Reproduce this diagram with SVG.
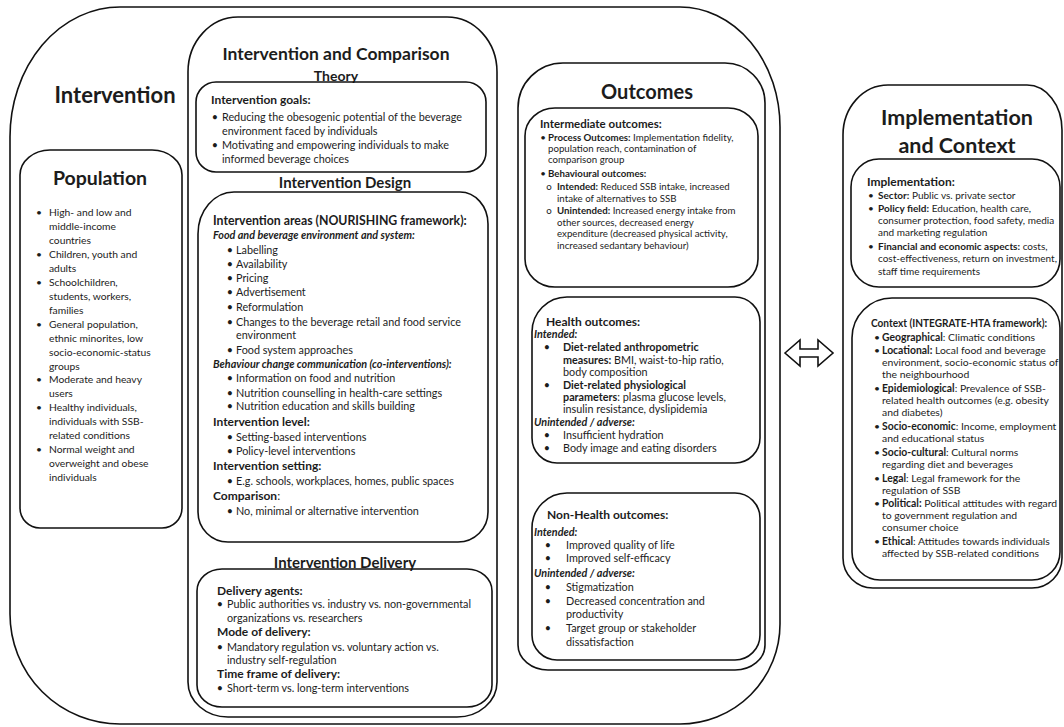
<svg xmlns="http://www.w3.org/2000/svg" width="1064" height="727" viewBox="0 0 1064 727">
<style>
.box{fill:none;stroke:#111;stroke-width:1.6}
text{font-family:Lato,"Open Sans","Liberation Sans",sans-serif;fill:#1c1c1c}
.h1{font-size:22px;font-weight:bold;text-anchor:middle}
.h2{font-size:17.5px;font-weight:bold;text-anchor:middle}
.h3{font-size:15px;font-weight:bold;text-anchor:middle}
.hd{font-size:12px;font-weight:bold}
.bi{font-weight:bold;font-style:italic}
.t11{font-size:10.8px}
.tp{font-size:10.3px}
.t10{font-size:10px}
.t104{font-size:10.4px}
.t95{font-size:9.7px}
.b{font-weight:bold}
.bul{text-anchor:middle}
</style>
<rect width="1064" height="727" fill="#fff"/>

<g id="intervention">
<path class="box" d="M120,7 H680 A100 120 0 0 1 780,127 V624 A100 100 0 0 1 680,724 H120 A110 110 0 0 1 10,614 V137 A110 130 0 0 1 120,7 Z"/>
<text class="h1" x="115" y="103">Intervention</text>
</g>

<g id="population">
<path class="box" d="M50,150 H152 A30 25 0 0 1 182,175 V508 A20 20 0 0 1 162,528 H40 A20 20 0 0 1 20,508 V175 A30 25 0 0 1 50,150 Z"/>
<text class="h1" x="100" y="185" style="font-size:19.5px">Population</text>
<g class="tp">
<text class="bul" x="39" y="216">•</text><text x="49" y="216">High- and low and</text>
<text x="49" y="230">middle-income</text>
<text x="49" y="244">countries</text>
<text class="bul" x="39" y="258">•</text><text x="49" y="258">Children, youth and</text>
<text x="49" y="272">adults</text>
<text class="bul" x="39" y="286">•</text><text x="49" y="286">Schoolchildren,</text>
<text x="49" y="300">students, workers,</text>
<text x="49" y="314">families</text>
<text class="bul" x="39" y="328">•</text><text x="49" y="328">General population,</text>
<text x="49" y="342">ethnic minorites, low</text>
<text x="49" y="356">socio-economic-status</text>
<text x="49" y="370">groups</text>
<text class="bul" x="39" y="383">•</text><text x="49" y="383">Moderate and heavy</text>
<text x="49" y="397">users</text>
<text class="bul" x="39" y="411">•</text><text x="49" y="411">Healthy individuals,</text>
<text x="49" y="425">individuals with SSB-</text>
<text x="49" y="439">related conditions</text>
<text class="bul" x="39" y="453">•</text><text x="49" y="453">Normal weight and</text>
<text x="49" y="467">overweight and obese</text>
<text x="49" y="481">individuals</text>
</g>
</g>

<g id="intervention-comparison">
<path class="box" d="M238,17 H447 A50 55 0 0 1 497,72 V682 A40 35 0 0 1 457,717 H228 A40 35 0 0 1 188,682 V72 A50 55 0 0 1 238,17 Z"/>
<text class="h2" x="336" y="60">Intervention and Comparison</text>
</g>

<g id="theory">
<text class="h3" x="336" y="81" style="font-size:14px">Theory</text>
<rect class="box" x="196" y="82" width="290" height="90" rx="20" ry="20"/>
<text class="hd" x="211" y="104">Intervention goals:</text>
<g class="t11">
<text class="bul" x="215" y="121">•</text><text x="222" y="121">Reducing the obesogenic potential of the beverage</text>
<text x="222" y="135">environment faced by individuals</text>
<text class="bul" x="215" y="149">•</text><text x="222" y="149">Motivating and empowering individuals to make</text>
<text x="222" y="163">informed beverage choices</text>
</g>
</g>

<g id="design">
<text class="h3" x="345" y="188">Intervention Design</text>
<path class="box" d="M234,192 H460 A28 32 0 0 1 488,224 V512 A30 30 0 0 1 458,542 H228 A30 30 0 0 1 198,512 V234 A36 42 0 0 1 234,192 Z"/>
<text class="hd" x="213" y="225" style="font-size:12.3px">Intervention areas (NOURISHING framework):</text>
<text class="t11 bi" x="213" y="239">Food and beverage environment and system:</text>
<g class="t11">
<text class="bul" x="230" y="254">•</text><text x="236" y="254">Labelling</text>
<text class="bul" x="230" y="268">•</text><text x="236" y="268">Availability</text>
<text class="bul" x="230" y="282">•</text><text x="236" y="282">Pricing</text>
<text class="bul" x="230" y="296">•</text><text x="236" y="296">Advertisement</text>
<text class="bul" x="230" y="311">•</text><text x="236" y="311">Reformulation</text>
<text class="bul" x="230" y="326">•</text><text x="236" y="326">Changes to the beverage retail and food service</text>
<text x="236" y="339">environment</text>
<text class="bul" x="230" y="354">•</text><text x="236" y="354">Food system approaches</text>
</g>
<text class="t11 bi" x="213" y="368">Behaviour change communication (co-interventions):</text>
<g class="t11">
<text class="bul" x="230" y="382">•</text><text x="236" y="382">Information on food and nutrition</text>
<text class="bul" x="230" y="397">•</text><text x="236" y="397">Nutrition counselling in health-care settings</text>
<text class="bul" x="230" y="410">•</text><text x="236" y="410">Nutrition education and skills building</text>
</g>
<text class="hd" x="213" y="426">Intervention level:</text>
<g class="t11">
<text class="bul" x="230" y="441">•</text><text x="236" y="441">Setting-based interventions</text>
<text class="bul" x="230" y="455">•</text><text x="236" y="455">Policy-level interventions</text>
</g>
<text class="hd" x="213" y="470">Intervention setting:</text>
<text class="t11 bul" x="230" y="485">•</text><text class="t11" x="236" y="485">E.g. schools, workplaces, homes, public spaces</text>
<text class="hd" x="213" y="500">Comparison<tspan style="font-weight:normal">:</tspan></text>
<text class="t11 bul" x="230" y="515">•</text><text class="t11" x="236" y="515">No, minimal or alternative intervention</text>
</g>

<g id="delivery">
<text class="h3" x="345" y="568">Intervention Delivery</text>
<path class="box" d="M222,569 H467 A25 22 0 0 1 492,591 V685 A25 22 0 0 1 467,707 H222 A25 22 0 0 1 197,685 V591 A25 22 0 0 1 222,569 Z"/>
<text class="hd" x="217" y="595">Delivery agents:</text>
<g class="t11">
<text class="bul" x="220" y="608">•</text><text x="227" y="608">Public authorities vs. industry vs. non-governmental</text>
<text x="227" y="622">organizations vs. researchers</text>
</g>
<text class="hd" x="217" y="636">Mode of delivery:</text>
<g class="t11">
<text class="bul" x="220" y="651">•</text><text x="227" y="651">Mandatory regulation vs. voluntary action vs.</text>
<text x="227" y="664">industry self-regulation</text>
</g>
<text class="hd" x="217" y="678">Time frame of delivery:</text>
<text class="t11 bul" x="220" y="692">•</text><text class="t11" x="227" y="692">Short-term vs. long-term interventions</text>
</g>

<g id="outcomes">
<path class="box" d="M563,63 H725 A40 40 0 0 1 765,103 V645 A30 25 0 0 1 735,670 H548 A30 25 0 0 1 518,645 V108 A45 45 0 0 1 563,63 Z"/>
<text class="h1" x="647" y="99" style="font-size:20px">Outcomes</text>
</g>

<g id="intermediate-outcomes">
<path class="box" d="M555,108 H728 A30 28 0 0 1 758,136 V259 A30 28 0 0 1 728,287 H555 A30 28 0 0 1 525,259 V136 A30 28 0 0 1 555,108 Z"/>
<text class="hd" x="540" y="127.5" style="font-size:11.5px">Intermediate outcomes:</text>
<g class="t95">
<text class="bul" x="543" y="140.5">•</text><text x="548" y="140.5"><tspan class="b">Process Outcomes:</tspan> Implementation fidelity,</text>
<text x="548" y="152">population reach, contamination of</text>
<text x="548" y="163">comparison group</text>
<text class="bul" x="543" y="176.5">•</text><text x="548" y="176.5" class="b">Behavioural outcomes:</text>
<text x="549" y="189.5" class="bul">o</text><text x="557" y="189.5"><tspan class="b">Intended:</tspan> Reduced SSB intake, increased</text>
<text x="557" y="201.5">intake of alternatives to SSB</text>
<text x="549" y="213.5" class="bul">o</text><text x="557" y="213.5"><tspan class="b">Unintended:</tspan> Increased energy intake from</text>
<text x="557" y="225.5">other sources, decreased energy</text>
<text x="557" y="237">expenditure (decreased physical activity,</text>
<text x="557" y="248.5">increased sedantary behaviour)</text>
</g>
</g>

<g id="health-outcomes">
<path class="box" d="M567,297 H735 A25 25 0 0 1 760,322 V438 A25 25 0 0 1 735,463 H557 A25 25 0 0 1 532,438 V332 A35 35 0 0 1 567,297 Z"/>
<text class="hd" x="546" y="326">Health outcomes:</text>
<text class="t11 bi" x="534" y="338">Intended:</text>
<g class="t11">
<text class="bul" x="547" y="351">•</text><text x="563" y="351" class="b">Diet-related anthropometric</text>
<text x="563" y="364"><tspan class="b">measures:</tspan> BMI, waist-to-hip ratio,</text>
<text x="563" y="376">body composition</text>
<text class="bul" x="547" y="389">•</text><text x="563" y="389" class="b">Diet-related physiological</text>
<text x="563" y="401"><tspan class="b">parameters</tspan>: plasma glucose levels,</text>
<text x="563" y="413">insulin resistance, dyslipidemia</text>
</g>
<text class="t11 bi" x="534" y="426">Unintended / adverse:</text>
<g class="t11">
<text class="bul" x="547" y="439">•</text><text x="563" y="439">Insufficient hydration</text>
<text class="bul" x="547" y="452">•</text><text x="563" y="452">Body image and eating disorders</text>
</g>
</g>

<g id="non-health-outcomes">
<path class="box" d="M567,493 H735 A25 25 0 0 1 760,518 V635 A25 25 0 0 1 735,660 H557 A25 25 0 0 1 532,635 V528 A35 35 0 0 1 567,493 Z"/>
<text class="hd" x="547" y="519">Non-Health outcomes:</text>
<text class="t11 bi" x="534" y="536">Intended:</text>
<g class="t11">
<text class="bul" x="548" y="549">•</text><text x="566" y="549">Improved quality of life</text>
<text class="bul" x="548" y="562">•</text><text x="566" y="562">Improved self-efficacy</text>
</g>
<text class="t11 bi" x="534" y="577">Unintended / adverse:</text>
<g class="t11">
<text class="bul" x="548" y="591">•</text><text x="566" y="591">Stigmatization</text>
<text class="bul" x="548" y="605">•</text><text x="566" y="605">Decreased concentration and</text>
<text x="566" y="618">productivity</text>
<text class="bul" x="548" y="632">•</text><text x="566" y="632">Target group or stakeholder</text>
<text x="566" y="646">dissatisfaction</text>
</g>
</g>

<g id="implementation-context">
<path class="box" d="M888,85 H1027 A35 45 0 0 1 1062,130 V558 A30 30 0 0 1 1032,588 H873 A30 30 0 0 1 843,558 V135 A45 50 0 0 1 888,85 Z"/>
<text class="h1" x="957" y="125" style="font-size:21.5px">Implementation</text>
<text class="h1" x="957" y="153" style="font-size:21.5px">and Context</text>
</g>

<g id="implementation">
<path class="box" d="M879,159 H1032 A28 28 0 0 1 1060,187 V259 A28 28 0 0 1 1032,287 H879 A28 28 0 0 1 851,259 V187 A28 28 0 0 1 879,159 Z"/>
<text class="hd" x="867" y="186">Implementation:</text>
<g class="t10">
<text class="bul" x="871" y="198.5">•</text><text x="878" y="198.5"><tspan class="b">Sector:</tspan> Public vs. private sector</text>
<text class="bul" x="871" y="211.5">•</text><text x="878" y="211.5"><tspan class="b">Policy field:</tspan> Education, health care,</text>
<text x="878" y="223.5">consumer protection, food safety, media</text>
<text x="878" y="236">and marketing regulation</text>
<text class="bul" x="871" y="250">•</text><text x="878" y="250"><tspan class="b">Financial and economic aspects:</tspan> costs,</text>
<text x="878" y="262">cost-effectiveness, return on investment,</text>
<text x="878" y="275">staff time requirements</text>
</g>
</g>

<g id="context">
<path class="box" d="M892,298 H1030 A30 30 0 0 1 1060,328 V552 A28 28 0 0 1 1032,580 H880 A28 28 0 0 1 852,552 V338 A40 40 0 0 1 892,298 Z"/>
<text class="hd" x="871" y="327" style="font-size:11px" textLength="176" lengthAdjust="spacingAndGlyphs">Context (INTEGRATE-HTA framework):</text>
<g class="t104">
<text class="bul" x="877" y="340.5">•</text><text x="882" y="340.5"><tspan class="b">Geographical</tspan>: Climatic conditions</text>
<text class="bul" x="877" y="354">•</text><text x="882" y="354"><tspan class="b">Locational:</tspan> Local food and beverage</text>
<text x="882" y="366">environment, socio-economic status of</text>
<text x="882" y="378">the neighbourhood</text>
<text class="bul" x="877" y="392">•</text><text x="882" y="392"><tspan class="b">Epidemiological</tspan>: Prevalence of SSB-</text>
<text x="882" y="404">related health outcomes (e.g. obesity</text>
<text x="882" y="416">and diabetes)</text>
<text class="bul" x="877" y="430">•</text><text x="882" y="430"><tspan class="b">Socio-economic</tspan>: Income, employment</text>
<text x="882" y="442">and educational status</text>
<text class="bul" x="877" y="456">•</text><text x="882" y="456"><tspan class="b">Socio-cultural</tspan>: Cultural norms</text>
<text x="882" y="468">regarding diet and beverages</text>
<text class="bul" x="877" y="482">•</text><text x="882" y="482"><tspan class="b">Legal</tspan>: Legal framework for the</text>
<text x="882" y="494">regulation of SSB</text>
<text class="bul" x="877" y="507">•</text><text x="882" y="507"><tspan class="b">Political:</tspan> Political attitudes with regard</text>
<text x="882" y="519">to government regulation and</text>
<text x="882" y="531">consumer choice</text>
<text class="bul" x="877" y="545">•</text><text x="882" y="545"><tspan class="b">Ethical</tspan>: Attitudes towards individuals</text>
<text x="882" y="557">affected by SSB-related conditions</text>
</g>
</g>

<g id="connectors">
<polygon class="box" points="785,353 800,340 800,349 818,349 818,340 833,353 818,366 818,357 800,357 800,366"/>
</g>
</svg>
